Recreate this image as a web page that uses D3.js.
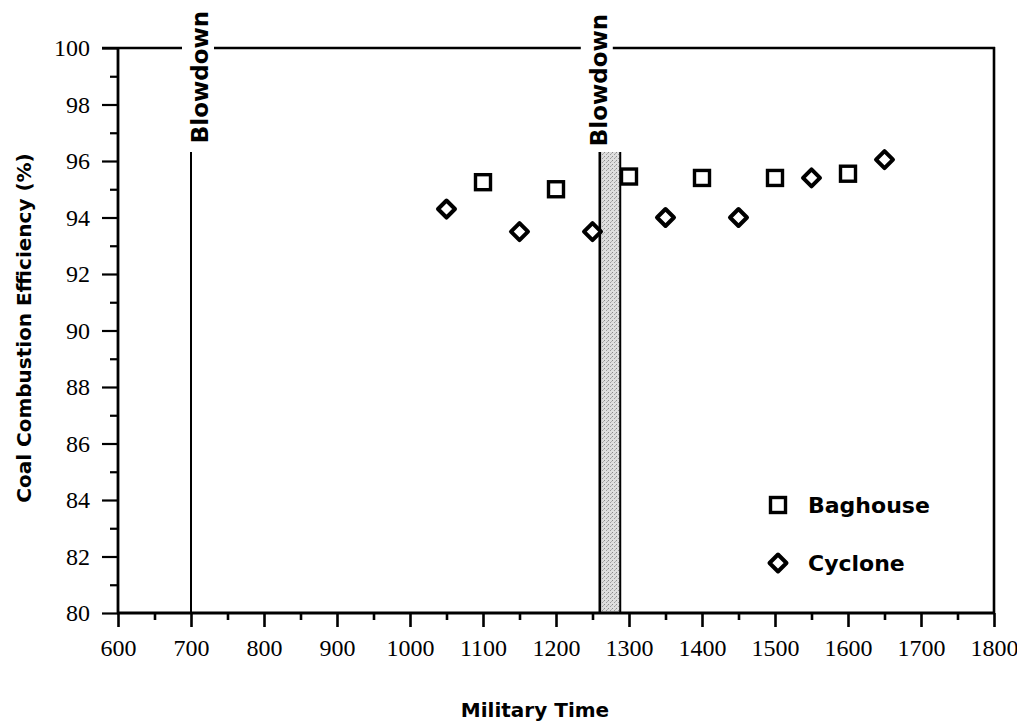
<!DOCTYPE html>
<html>
<head>
<meta charset="utf-8">
<script src="https://cdn.jsdelivr.net/npm/d3@7"></script>
<style>
  html, body { margin: 0; padding: 0; background: #fff; }
  svg { display: block; }
</style>
</head>
<body>
<svg id="chart" width="1017" height="728"></svg>
<script>
// ---- data ----
const xTickValues = [600, 700, 800, 900, 1000, 1100, 1200, 1300, 1400, 1500, 1600, 1700, 1800];
const yTickValues = [80, 82, 84, 86, 88, 90, 92, 94, 96, 98, 100];
const baghouseTimes = [1100, 1200, 1300, 1400, 1500, 1600];
const baghouseValues = [95.25, 95.0, 95.45, 95.4, 95.4, 95.55];
const cycloneTimes = [1050, 1150, 1250, 1350, 1450, 1550, 1650];
const cycloneValues = [94.3, 93.5, 93.5, 94.0, 94.0, 95.4, 96.05];
const blowdownLine = 700;
const blowdownBand = [1260, 1288];
const seriesNames = ["Baghouse", "Cyclone"];

// ---- layout ----
const svg = d3.select("#chart");
const x = d3.scaleLinear().domain([600, 1800]).range([118, 994]);
const y = d3.scaleLinear().domain([80, 100]).range([613, 48]);
const sansBold = "'DejaVu Sans', sans-serif";
const serif = "'Liberation Serif', 'Times New Roman', serif";

// stipple pattern for the shaded band
const defs = svg.append("defs");
const pat = defs.append("pattern").attr("id", "stipple")
  .attr("width", 4).attr("height", 4).attr("patternUnits", "userSpaceOnUse");
pat.append("rect").attr("width", 4).attr("height", 4).attr("fill", "#dedede");
pat.append("rect").attr("x", 0).attr("y", 0).attr("width", 1).attr("height", 1).attr("fill", "#8a8a8a");
pat.append("rect").attr("x", 2).attr("y", 2).attr("width", 1).attr("height", 1).attr("fill", "#9a9a9a");
pat.append("rect").attr("x", 3).attr("y", 1).attr("width", 1).attr("height", 1).attr("fill", "#b0b0b0");

const bandTop = 152;

// shaded blowdown band
svg.append("rect")
  .attr("x", x(blowdownBand[0])).attr("y", bandTop)
  .attr("width", x(blowdownBand[1]) - x(blowdownBand[0]))
  .attr("height", y(80) - bandTop)
  .attr("fill", "url(#stipple)");
svg.append("line")
  .attr("x1", x(blowdownBand[0])).attr("x2", x(blowdownBand[0]))
  .attr("y1", bandTop).attr("y2", y(80))
  .attr("stroke", "#000").attr("stroke-width", 2.6);
svg.append("line")
  .attr("x1", x(blowdownBand[1])).attr("x2", x(blowdownBand[1]))
  .attr("y1", bandTop).attr("y2", y(80))
  .attr("stroke", "#000").attr("stroke-width", 2);

// blowdown line
svg.append("line")
  .attr("x1", x(blowdownLine)).attr("x2", x(blowdownLine))
  .attr("y1", bandTop).attr("y2", y(80))
  .attr("stroke", "#000").attr("stroke-width", 2);

// blowdown labels
const label1X = x(blowdownLine) + 17;
const label2X = x(blowdownBand[0]) + 7;
[[label1X, 77], [label2X, 80]].forEach(([lx, ly]) => {
  svg.append("text")
    .attr("transform", `translate(${lx},${ly}) rotate(-90)`)
    .attr("text-anchor", "middle")
    .attr("font-family", sansBold).attr("font-weight", "bold")
    .attr("font-size", 23)
    .text("Blowdown");
});

// top border with gaps around labels
const g1 = label1X - 10, g2 = label2X - 10;
const topSegs = [[102, g1 - 16], [g1 + 16, g2 - 16], [g2 + 16, 995]];
topSegs.forEach(([a, b]) => {
  svg.append("line").attr("x1", a).attr("x2", b).attr("y1", y(100)).attr("y2", y(100))
    .attr("stroke", "#000").attr("stroke-width", 2.6);
});
// right border
svg.append("line").attr("x1", x(1800)).attr("x2", x(1800)).attr("y1", y(100) - 1).attr("y2", y(80))
  .attr("stroke", "#000").attr("stroke-width", 2.6);

// y axis
const yAxis = svg.append("g").attr("transform", `translate(${x(600)},0)`)
  .call(d3.axisLeft(y).tickValues(yTickValues).tickSize(16).tickPadding(12).tickFormat(d3.format("d")));
yAxis.select(".domain").remove();
yAxis.selectAll(".tick line").attr("stroke", "#000").attr("stroke-width", 2.2);
yAxis.selectAll(".tick text").attr("font-family", serif).attr("font-size", 24).attr("fill", "#000");
const yMinor = svg.append("g").attr("transform", `translate(${x(600)},0)`)
  .call(d3.axisLeft(y).tickValues(d3.range(81, 100, 2)).tickSize(8).tickFormat(""));
yMinor.select(".domain").remove();
yMinor.selectAll(".tick line").attr("stroke", "#000").attr("stroke-width", 2.2);
svg.append("line").attr("x1", x(600)).attr("x2", x(600)).attr("y1", y(100) - 1).attr("y2", y(80))
  .attr("stroke", "#000").attr("stroke-width", 2.8);

// x axis
const xAxis = svg.append("g").attr("transform", `translate(0,${y(80)})`)
  .call(d3.axisBottom(x).tickValues(xTickValues).tickSize(14).tickPadding(12).tickFormat(d3.format("d")));
xAxis.select(".domain").remove();
xAxis.selectAll(".tick line").attr("stroke", "#000").attr("stroke-width", 2.6);
xAxis.selectAll(".tick text").attr("font-family", serif).attr("font-size", 24).attr("fill", "#000");
const xMinor = svg.append("g").attr("transform", `translate(0,${y(80)})`)
  .call(d3.axisBottom(x).tickValues(d3.range(650, 1800, 100)).tickSize(7).tickFormat(""));
xMinor.select(".domain").remove();
xMinor.selectAll(".tick line").attr("stroke", "#000").attr("stroke-width", 2.6);
svg.append("line").attr("x1", x(600) - 1).attr("x2", x(1800) + 1).attr("y1", y(80)).attr("y2", y(80))
  .attr("stroke", "#000").attr("stroke-width", 2.8);

// markers
const sq = 15, dm = 8.5;
function square(g, cx, cy) {
  g.append("rect").attr("x", cx - sq / 2).attr("y", cy - sq / 2).attr("width", sq).attr("height", sq)
    .attr("fill", "#fff").attr("stroke", "#000").attr("stroke-width", 3.4);
}
function diamond(g, cx, cy) {
  g.append("path").attr("d", `M${cx},${cy - dm}L${cx + dm},${cy}L${cx},${cy + dm}L${cx - dm},${cy}Z`)
    .attr("fill", "#fff").attr("stroke", "#000").attr("stroke-width", 4).attr("stroke-linejoin", "round");
}
const marks = svg.append("g");
baghouseTimes.forEach((t, i) => square(marks, x(t), y(baghouseValues[i])));
cycloneTimes.forEach((t, i) => diamond(marks, x(t), y(cycloneValues[i])));

// legend
const leg = svg.append("g");
square(leg, 778, 505);
diamond(leg, 778, 563);
leg.append("text").attr("x", 808).attr("y", 513)
  .attr("font-family", sansBold).attr("font-weight", "bold").attr("font-size", 22).text(seriesNames[0]);
leg.append("text").attr("x", 808).attr("y", 571)
  .attr("font-family", sansBold).attr("font-weight", "bold").attr("font-size", 22).text(seriesNames[1]);

// axis titles
svg.append("text").attr("x", 535).attr("y", 717).attr("text-anchor", "middle")
  .attr("font-family", sansBold).attr("font-weight", "bold").attr("font-size", 20).text("Military Time");
svg.append("text").attr("transform", "translate(31,328) rotate(-90)").attr("text-anchor", "middle")
  .attr("font-family", sansBold).attr("font-weight", "bold").attr("font-size", 20)
  .text("Coal Combustion Efficiency (%)");
</script>
</body>
</html>
